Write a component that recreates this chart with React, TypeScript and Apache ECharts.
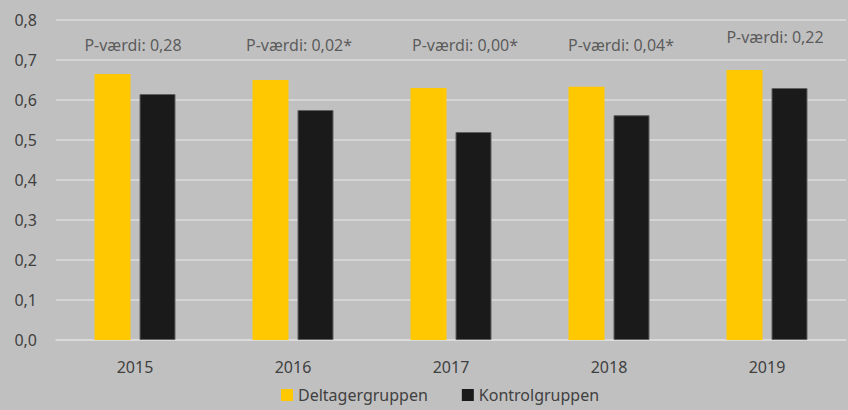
import React, { useEffect, useRef } from "react";
import * as echarts from "echarts";

const years = ["2015", "2016", "2017", "2018", "2019"];
const deltager = [0.665, 0.65, 0.63, 0.633, 0.675];
const kontrol = [0.615, 0.575, 0.52, 0.562, 0.63];
const pValues = ["0,28", "0,02*", "0,00*", "0,04*", "0,22"];
const pLabelLevel = [0.7375, 0.7375, 0.7375, 0.7375, 0.7575];
const pLabelShift = [-2, 6, 14, 12, 8];

const FONT = "'Noto Sans', 'Open Sans', sans-serif";
const TXT = "#404040";
const FS = 16;

export default function App() {
  const ref = useRef<HTMLDivElement>(null);
  useEffect(() => {
    if (!ref.current) return;
    const chart = echarts.init(ref.current, undefined, { renderer: "svg" });
    chart.setOption({
      animation: false,
      backgroundColor: "#c0c0c0",
      textStyle: { fontFamily: FONT },
      grid: { left: 56, right: 2, top: 20, bottom: 70 },
      legend: {
        data: ["Deltagergruppen", "Kontrolgruppen"],
        left: 281,
        top: 387,
        padding: 0,
        icon: "rect",
        itemWidth: 12,
        itemHeight: 12,
        itemGap: 34,
        itemStyle: { borderWidth: 0 },
        textStyle: { color: TXT, fontSize: FS, fontFamily: FONT, lineHeight: 16 },
      },
      xAxis: {
        type: "category",
        data: years,
        axisLine: { lineStyle: { color: "#dcdcdc", width: 1.5 } },
        axisTick: { show: false },
        axisLabel: { color: TXT, fontSize: FS, margin: 19, fontFamily: FONT },
      },
      yAxis: {
        type: "value",
        min: 0,
        max: 0.8,
        interval: 0.1,
        axisLine: { show: false },
        axisTick: { show: false },
        splitLine: { lineStyle: { color: "#dcdcdc", width: 1.5 } },
        axisLabel: {
          color: TXT,
          fontSize: FS,
          margin: 19,
          fontFamily: FONT,
          formatter: (v: number) => v.toFixed(1).replace(".", ","),
        },
      },
      series: [
        {
          name: "Deltagergruppen",
          type: "bar",
          data: deltager,
          barWidth: 36,
          barGap: "25%",
          itemStyle: { color: "#ffc800" },
        },
        {
          name: "Kontrolgruppen",
          type: "bar",
          data: kontrol,
          barWidth: 36,
          itemStyle: { color: "#1a1a1a", borderColor: "#606060", borderWidth: 1 },
        },
        {
          name: "pvals",
          type: "scatter",
          symbolSize: 0,
          silent: true,
          data: years.map((y, i) => ({
            value: [y, pLabelLevel[i]],
            label: {
              show: true,
              position: "inside",
              offset: [pLabelShift[i], 0],
              formatter: "P-værdi: " + pValues[i],
              color: TXT,
              fontSize: FS,
              fontFamily: FONT,
            },
          })),
        },
      ],
    });
    return () => chart.dispose();
  }, []);
  return <div ref={ref} style={{ width: 848, height: 410, position: "absolute", left: 0, top: 0 }} />;
}
